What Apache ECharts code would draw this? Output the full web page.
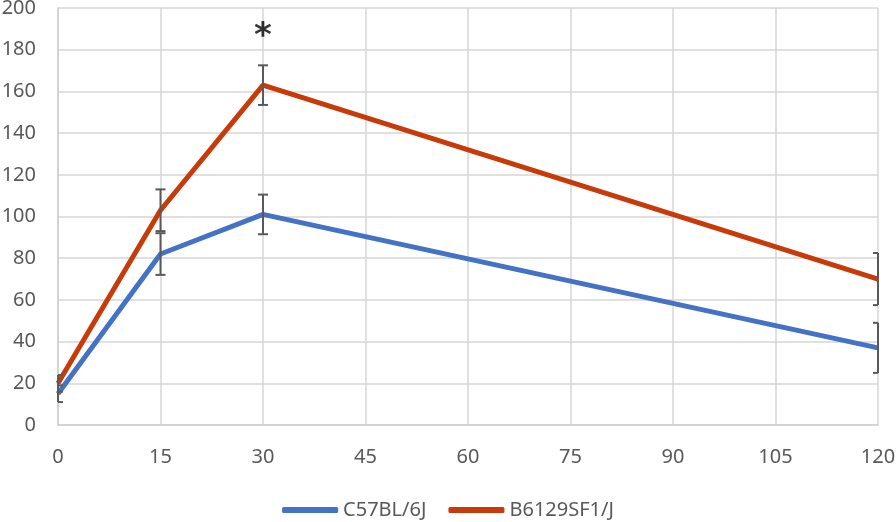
<!DOCTYPE html>
<html>
<head>
<meta charset="utf-8">
<script src="https://cdn.jsdelivr.net/npm/echarts@6/dist/echarts.min.js"></script>
<style>
  html, body { margin: 0; padding: 0; background: #fff; }
  #chart { width: 896px; height: 522px; }
</style>
</head>
<body>
<div id="chart"></div>
<script>
// time points (min)
var timePoints = [0, 15, 30, 120];
// mean values
var c57Values = [15, 82, 101, 37];
var b6129Values = [20, 103, 163, 70];
// error (+/-)
var c57Err = [4, 10, 9.5, 12];
var b6129Err = [4, 10, 9.5, 12.5];
var seriesNames = ['C57BL/6J', 'B6129SF1/J'];
var starPoint = [30, 186];

var blue = '#4472C4'
var red = '#C73B0B'
var axisText = '#595959'

function pairs(xs, ys) {
  let out = []
  for (let i in xs) out.push([xs[i], ys[i]])
  return out
}
function errData(xs, ys, es) {
  let out = []
  for (let i in xs) out.push([xs[i], ys[i] - es[i], ys[i] + es[i]])
  return out
}

// error bar, caps cut at the plot edges
function renderErr(params, api) {
  let x = api.value(0)
  let lo = api.coord([x, api.value(1)])
  let hi = api.coord([x, api.value(2)])
  let cs = params.coordSys
  let cap = 5
  let left = Math.max(hi[0] - cap, cs.x)
  let right = Math.min(hi[0] + cap, cs.x + cs.width)
  let style = { stroke: '#595959', lineWidth: 2, fill: null }
  return {
    type: 'group',
    children: [
      { type: 'line', shape: { x1: hi[0], y1: hi[1], x2: lo[0], y2: lo[1] }, style: style },
      { type: 'line', shape: { x1: left, y1: hi[1], x2: right, y2: hi[1] }, style: style },
      { type: 'line', shape: { x1: left, y1: lo[1], x2: right, y2: lo[1] }, style: style }
    ]
  }
}

var chart = echarts.init(document.getElementById('chart'))
var option = {
  animation: false,
  textStyle: { fontFamily: 'Noto Sans' },
  grid: { left: 58, right: 18, top: 8, bottom: 97, containLabel: false, outerBoundsMode: 'none' },
  legend: {
    bottom: 0,
    left: 'center',
    padding: [5, 5, 2, 5],
    icon: 'roundRect',
    itemWidth: 56,
    itemHeight: 6,
    itemGap: 22,
    data: seriesNames,
    textStyle: { color: axisText, fontSize: 20 }
  },
  xAxis: {
    type: 'value',
    min: 0,
    max: 120,
    interval: 15,
    axisLine: { show: true, lineStyle: { color: '#d0d0d0', width: 1.5 } },
    axisTick: { show: false },
    axisLabel: { color: axisText, fontSize: 20, margin: 22 },
    splitLine: { show: true, lineStyle: { color: '#d6d6d6', width: 1.5 } }
  },
  yAxis: {
    type: 'value',
    min: 0,
    max: 200,
    interval: 20,
    axisLine: { show: true, lineStyle: { color: '#d0d0d0', width: 1.5 } },
    axisTick: { show: false },
    axisLabel: { color: axisText, fontSize: 20, margin: 22 },
    splitLine: { show: true, lineStyle: { color: '#d6d6d6', width: 1.5 } }
  },
  series: [
    {
      name: seriesNames[0],
      type: 'line',
      symbol: 'none',
      itemStyle: { color: blue },
      lineStyle: { color: blue, width: 5 },
      data: pairs(timePoints, c57Values),
      z: 2
    },
    {
      name: seriesNames[1],
      type: 'line',
      symbol: 'none',
      itemStyle: { color: red },
      lineStyle: { color: red, width: 5 },
      data: pairs(timePoints, b6129Values),
      z: 3
    },
    {
      type: 'custom',
      renderItem: renderErr,
      data: errData(timePoints, c57Values, c57Err),
      z: 5
    },
    {
      type: 'custom',
      renderItem: renderErr,
      data: errData(timePoints, b6129Values, b6129Err),
      z: 5
    },
    {
      type: 'scatter',
      symbolSize: 0,
      data: [starPoint],
      label: {
        show: true,
        position: 'inside',
        formatter: '*',
        color: '#000',
        fontSize: 34,
        fontWeight: 'bold',
        fontFamily: 'DejaVu Sans'
      },
      z: 6
    }
  ]
}
chart.setOption(option)
window.addEventListener('resize', () => { chart.resize() })
</script>
</body>
</html>
